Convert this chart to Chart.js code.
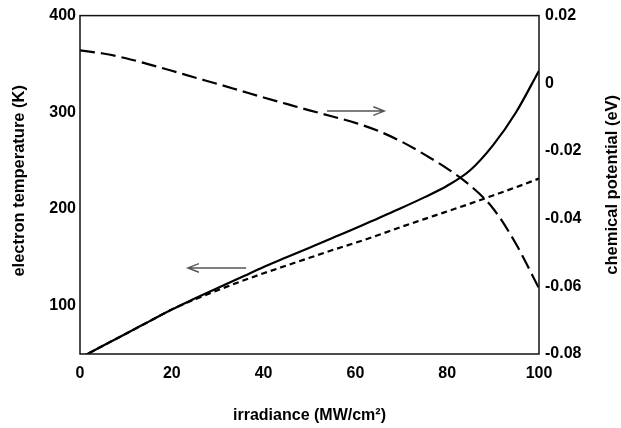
<!DOCTYPE html>
<html><head><meta charset="utf-8">
<script src="https://cdn.jsdelivr.net/npm/chart.js@4"></script>
<style>html,body{margin:0;padding:0;background:#fff;}#wrap{width:621px;height:428px;position:relative;}</style>
</head><body><div id="wrap"><canvas id="c"></canvas></div>
<script>
// ---- data ----
const irradiance = [0,5,10,15,20,25,30,35,40,45,50,55,60,65,70,75,80,85,90,95,100];
const electronTempSolid = [46,58.5,71,83.5,96,107.3,118.3,129,140,150,160,170,180,190.5,201,212,224,240,266,300,343];
const electronTempDashed = [46,58.5,71,83.5,96,106.5,116,125,133.5,141.5,149.5,157.5,165,173,181.5,189.5,197.5,205.5,214,222.5,231.5];
const chemicalPotential = [0.0097,0.0088,0.0074,0.0056,0.0037,0.0017,-0.0002,-0.0022,-0.0042,-0.0061,-0.0080,-0.0098,-0.0117,-0.0141,-0.0172,-0.0210,-0.0252,-0.0302,-0.0370,-0.0475,-0.0606];
const xTicks = [0,20,40,60,80,100];
const leftTicks = [100,200,300,400];
const rightTicks = [-0.08,-0.06,-0.04,-0.02,0,0.02];
const xTitle = 'irradiance (MW/cm²)';
const leftTitle = 'electron temperature (K)';
const rightTitle = 'chemical potential (eV)';
// annotation arrows in data coordinates: [x0, x1, y, axis]
const arrowToRight = [53.8, 66.3, -0.0082, 'yR'];
const arrowToLeft = [36.2, 23.5, 139, 'yL'];

const tickFont = {family:'"Liberation Sans", Arial, sans-serif', size:16, weight:'bold'};
const titleFont = 'bold 16.5px "Liberation Sans", Arial, sans-serif';
const xTitleFont = 'bold 16px "Liberation Sans", Arial, sans-serif';

function pts(ys){ return irradiance.map((x,i)=>({x:x,y:ys[i]})); }

function drawArrow(ctx, chart, a){
  const xs = chart.scales.x, ys = chart.scales[a[3]];
  const x0 = xs.getPixelForValue(a[0]), x1 = xs.getPixelForValue(a[1]);
  const y = ys.getPixelForValue(a[2]);
  const dir = x1 > x0 ? 1 : -1;
  ctx.save();
  ctx.strokeStyle = '#555';
  ctx.lineWidth = 1.4;
  ctx.beginPath();
  ctx.moveTo(x0, y); ctx.lineTo(x1, y);
  ctx.moveTo(x1 - dir*11, y - 4.3); ctx.lineTo(x1, y); ctx.lineTo(x1 - dir*11, y + 4.3);
  ctx.stroke();
  ctx.restore();
}

const decor = {
  id:'decor',
  afterDraw(chart){
    const ctx = chart.ctx, ca = chart.chartArea;
    ctx.save();
    ctx.strokeStyle = '#111';
    ctx.lineWidth = 1.5;
    ctx.strokeRect(ca.left, ca.top, ca.right - ca.left, ca.bottom - ca.top);
    drawArrow(ctx, chart, arrowToRight);
    drawArrow(ctx, chart, arrowToLeft);
    ctx.fillStyle = '#000';
    ctx.textAlign = 'center';
    ctx.textBaseline = 'middle';
    ctx.font = xTitleFont;
    ctx.fillText(xTitle, (ca.left + ca.right)/2, 416);
    ctx.font = titleFont;
    const cy = (ca.top + ca.bottom)/2;
    ctx.save(); ctx.translate(19, cy - 4); ctx.rotate(-Math.PI/2); ctx.fillText(leftTitle, 0, 0); ctx.restore();
    ctx.save(); ctx.translate(612, cy); ctx.rotate(-Math.PI/2); ctx.fillText(rightTitle, 0, 0); ctx.restore();
    ctx.restore();
  }
};

new Chart(document.getElementById('c'), {
  type:'line',
  data:{ datasets:[
    {data:pts(electronTempSolid), yAxisID:'yL', borderColor:'#000', borderWidth:2.2, pointRadius:0, cubicInterpolationMode:'monotone', fill:false},
    {data:pts(electronTempDashed), yAxisID:'yL', borderColor:'#000', borderWidth:2.2, borderDash:[6,4], pointRadius:0, cubicInterpolationMode:'monotone', fill:false},
    {data:pts(chemicalPotential), yAxisID:'yR', borderColor:'#000', borderWidth:2.2, borderDash:[15,6], pointRadius:0, cubicInterpolationMode:'monotone', fill:false}
  ]},
  options:{
    responsive:true, maintainAspectRatio:false, animation:false, devicePixelRatio:1,
    layout:{padding:{top:15,left:0,right:0,bottom:0}},
    plugins:{legend:{display:false}, tooltip:{enabled:false}},
    scales:{
      x:{type:'linear', position:'bottom', min:0, max:100,
        grid:{display:false, drawTicks:false}, border:{display:false},
        afterBuildTicks(s){ s.ticks = xTicks.map(v=>({value:v})); },
        ticks:{font:tickFont, color:'#000', padding:10, maxRotation:0, autoSkip:false, callback:v=>String(v)},
        afterFit(s){ s.height = 74; }},
      yL:{type:'linear', position:'left', min:50, max:400,
        grid:{display:false, drawTicks:false}, border:{display:false},
        afterBuildTicks(s){ s.ticks = leftTicks.map(v=>({value:v})); },
        ticks:{font:tickFont, color:'#000', padding:4, autoSkip:false, callback:v=>String(v)},
        afterFit(s){ s.width = 80; }},
      yR:{type:'linear', position:'right', min:-0.08, max:0.02,
        grid:{display:false, drawTicks:false}, border:{display:false},
        afterBuildTicks(s){ s.ticks = rightTicks.map(v=>({value:v})); },
        ticks:{font:tickFont, color:'#000', padding:6, autoSkip:false, callback:v=>Math.abs(v)<1e-9?'0':v.toFixed(2)},
        afterFit(s){ s.width = 82; }}
    }
  },
  plugins:[decor]
});
</script></body></html>
